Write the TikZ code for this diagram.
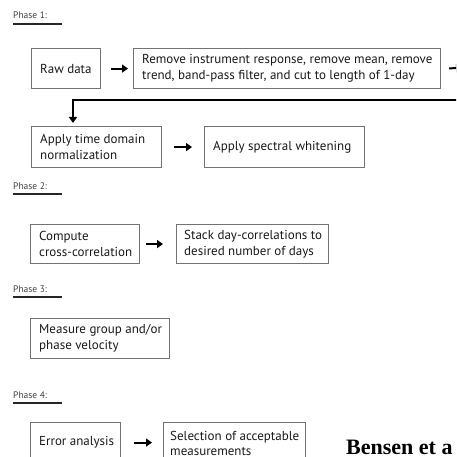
\documentclass[tikz,border=0pt]{standalone}
\usepackage{fontspec}
\setmainfont{PT Sans}
\newfontfamily\capfont{Liberation Serif}
\usetikzlibrary{arrows.meta}
\begin{document}
\begin{tikzpicture}[x=1pt,y=-1pt,
  box/.style={draw=black!55,line width=1.1pt,anchor=north west,inner sep=0pt},
  txt/.style={anchor=west,inner sep=0pt,align=left,font=\fontsize{13}{16}\selectfont,text=black!90},
  flow/.style={line width=2pt,-{Triangle[length=6pt,width=8pt]}},
  phase/.style={anchor=base west,inner sep=0pt,font=\fontsize{9.5}{11}\selectfont,text=black!75},
  uline/.style={line width=2.4pt,black!85}]
\useasboundingbox (0,0) rectangle (456,457);
\clip (0,0) rectangle (456,457);
% Phase labels
\node[phase] (p1) at (13,19) {Phase 1:};
\node[phase] (p2) at (13,189) {Phase 2:};
\node[phase] (p3) at (13,292) {Phase 3:};
\node[phase] (p4) at (13,398) {Phase 4:};
\draw[uline] (13,24) -- (62,24);
\draw[uline] (13,194) -- (62,194);
\draw[uline] (13,297) -- (62,297);
\draw[uline] (13,403) -- (62,403);
% Boxes
\node[box,minimum width=69pt,minimum height=40pt] (raw) at (31,48) {};
\node[box,minimum width=307pt,minimum height=40pt] (rem) at (133,48) {};
\node[box,minimum width=130pt,minimum height=41pt] (tdn) at (31,126) {};
\node[box,minimum width=160pt,minimum height=41pt] (spw) at (204,126) {};
\node[box,minimum width=109pt,minimum height=39pt] (cc) at (30,224) {};
\node[box,minimum width=152pt,minimum height=39pt] (stk) at (176,224) {};
\node[box,minimum width=139pt,minimum height=40pt] (meas) at (30,318) {};
\node[box,minimum width=90pt,minimum height=40pt] (err) at (30,422) {};
\node[box,minimum width=142pt,minimum height=40pt] (sel) at (163,422) {};
% Box texts
\node[txt] (traw) at ([xshift=9pt]raw.west) {Raw data};
\node[txt] (trem) at ([xshift=9pt]rem.west) {Remove instrument response, remove mean, remove\\trend, band-pass filter, and cut to length of 1-day};
\node[txt] (ttdn) at ([xshift=9pt]tdn.west) {Apply time domain\\normalization};
\node[txt] (tspw) at ([xshift=9pt]spw.west) {Apply spectral whitening};
\node[txt] (tcc) at ([xshift=9pt]cc.west) {Compute\\cross-correlation};
\node[txt] (tstk) at ([xshift=8pt]stk.west) {Stack day-correlations to\\desired number of days};
\node[txt] (tmeas) at ([xshift=9pt]meas.west) {Measure group and/or\\phase velocity};
\node[txt] (terr) at ([xshift=9pt]err.west) {Error analysis};
\node[txt,font=\fontsize{13}{14.5}\selectfont,yshift=-1pt] (tsel) at ([xshift=7pt]sel.west) {Selection of acceptable\\measurements};
% Arrows
\draw[flow,shorten <=10pt,shorten >=5pt] (raw) -- (rem);
\coordinate (offR) at (462,68);
\draw[flow,shorten <=8pt] (rem.east) -- (offR);
\coordinate (backR) at (462,100);
\coordinate (elb) at (73,100);
\draw[flow,line width=2.6pt,shorten >=3pt] (backR) -- (elb) -- (elb |- tdn.north);
\draw[flow,shorten <=12pt,shorten >=12pt] (tdn) -- (spw);
\draw[flow,shorten <=6pt,shorten >=13pt] (cc) -- (stk);
\draw[flow,shorten <=13pt,shorten >=11pt] (err) -- (sel);
% Caption
\node[anchor=base west,inner sep=0pt,font=\capfont\bfseries\fontsize{22}{24}\selectfont] (cap) at (346,454) {Bensen et a};
\end{tikzpicture}
\end{document}
